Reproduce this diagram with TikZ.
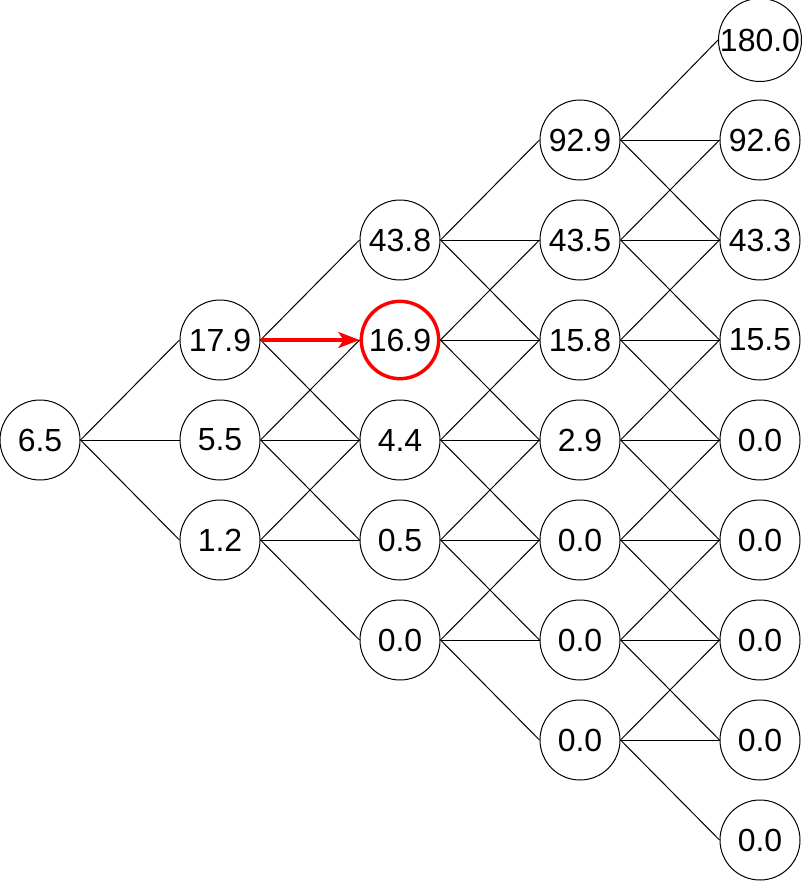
\documentclass[tikz,border=0pt]{standalone}
\usepackage{fontspec}
\setmainfont{Liberation Sans}
\usetikzlibrary{arrows.meta}
\begin{document}
\begin{tikzpicture}[x=0.75pt,y=-0.75pt,
  val/.style={circle,draw=black,fill=white,line width=0.75pt,minimum size=60pt,inner sep=0pt,
    font=\fontsize{24}{28}\selectfont},
  hot/.style={val,draw=red,line width=2.6pt,minimum size=58pt},
  edge/.style={draw=black,line width=0.75pt},
  redarrow/.style={draw=red,line width=2.6pt,-{Stealth[length=16pt,width=12pt,inset=4pt]}}]
\useasboundingbox (0,0) rectangle (801,881);
% column 0
\node[val] (n-0-4) at (40,440) {6.5};
% column 1
\node[val] (n-1-3) at (220,340) {17.9};
\node[val] (n-1-4) at (220,440) {5.5};
\node[val] (n-1-5) at (220,540) {1.2};
% column 2
\node[val] (n-2-2) at (400,240) {43.8};
\node[hot] (n-2-3) at (400,340) {16.9};
\node[val] (n-2-4) at (400,440) {4.4};
\node[val] (n-2-5) at (400,540) {0.5};
\node[val] (n-2-6) at (400,640) {0.0};
% column 3
\node[val] (n-3-1) at (580,140) {92.9};
\node[val] (n-3-2) at (580,240) {43.5};
\node[val] (n-3-3) at (580,340) {15.8};
\node[val] (n-3-4) at (580,440) {2.9};
\node[val] (n-3-5) at (580,540) {0.0};
\node[val] (n-3-6) at (580,640) {0.0};
\node[val] (n-3-7) at (580,740) {0.0};
% column 4
\node[val] (n-4-0) at (760,40) {180.0};
\node[val] (n-4-1) at (760,140) {92.6};
\node[val] (n-4-2) at (760,240) {43.3};
\node[val] (n-4-3) at (760,340) {15.5};
\node[val] (n-4-4) at (760,440) {0.0};
\node[val] (n-4-5) at (760,540) {0.0};
\node[val] (n-4-6) at (760,640) {0.0};
\node[val] (n-4-7) at (760,740) {0.0};
\node[val] (n-4-8) at (760,840) {0.0};
% edges
\foreach \c in {0,1,2,3}{
  \pgfmathtruncatemacro{\d}{\c+1}
  \pgfmathtruncatemacro{\lo}{4-\c}
  \pgfmathtruncatemacro{\hi}{4+\c}
  \foreach \r in {\lo,...,\hi}{
    \pgfmathtruncatemacro{\up}{\r-1}
    \pgfmathtruncatemacro{\dn}{\r+1}
    \draw[edge] (n-\c-\r.east) -- (n-\d-\up.west);
    \draw[edge] (n-\c-\r.east) -- (n-\d-\dn.west);
    \ifnum\c=1 \ifnum\r=3 \else
      \draw[edge] (n-\c-\r.east) -- (n-\d-\r.west);
    \fi\else
      \draw[edge] (n-\c-\r.east) -- (n-\d-\r.west);
    \fi
  }
}
\draw[redarrow] (n-1-3.east) -- (n-2-3.west);
\end{tikzpicture}
\end{document}
